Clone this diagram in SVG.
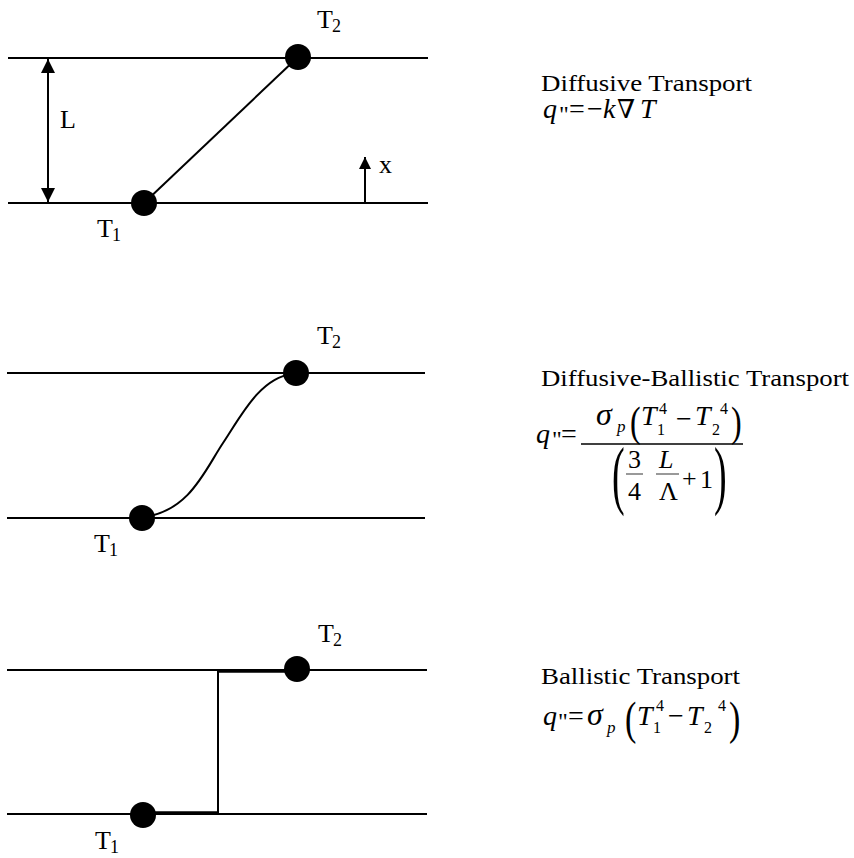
<svg xmlns="http://www.w3.org/2000/svg" width="854" height="858" viewBox="0 0 854 858">
<style>
  .ln{stroke:#000;stroke-width:2;fill:none}
  .thk{stroke:#000;stroke-width:3.5;fill:none}
  .dot{fill:#000}
  .lbl{font-family:"Liberation Serif","DejaVu Serif",serif;font-size:26px;fill:#000}
  .sub{font-family:"Liberation Serif","DejaVu Serif",serif;font-size:18px;fill:#000}
  .ttl{font-family:"Liberation Serif","DejaVu Serif",serif;font-size:24px;fill:#000}
  .m{font-family:"Liberation Serif","DejaVu Serif",serif;font-size:28px;fill:#000}
  .mi{font-family:"Liberation Serif","DejaVu Serif",serif;font-size:28px;font-style:italic;fill:#000}
  .ms{font-family:"Liberation Serif","DejaVu Serif",serif;font-size:16px;fill:#000}
  .msi{font-family:"Liberation Serif","DejaVu Serif",serif;font-size:17px;font-style:italic;fill:#000}
  .fb{stroke:#000;stroke-width:1.5}
  .fs{stroke:#555;stroke-width:1.2}
</style>
<defs>
  <marker id="ah" markerUnits="userSpaceOnUse" markerWidth="14" markerHeight="14" viewBox="0 0 14 14" refX="14" refY="7" orient="auto-start-reverse">
    <path d="M0,0 L14,7 L0,14 z" fill="#000"/>
  </marker>
  <marker id="ah2" markerUnits="userSpaceOnUse" markerWidth="12" markerHeight="12" viewBox="0 0 12 12" refX="12" refY="6" orient="auto">
    <path d="M0,0 L12,6 L0,12 z" fill="#000"/>
  </marker>
</defs>

<!-- Panel 1: Diffusive -->
<g id="panel1">
  <line class="ln" x1="8" y1="58" x2="428" y2="58"/>
  <line class="ln" x1="8" y1="203" x2="428" y2="203"/>
</g>
<g id="connectors">
  <line class="ln" x1="144" y1="203" x2="298" y2="57"/>
  <line class="ln" x1="48" y1="59" x2="48" y2="202" marker-start="url(#ah)" marker-end="url(#ah)"/>
  <line class="ln" x1="365" y1="203" x2="365" y2="157" marker-end="url(#ah2)"/>
  <path class="ln" d="M145,517 C190,510 205,470 223,443 S260,378 292,374"/>
  <path class="thk" d="M143,813 L218,813"/>
  <line class="ln" x1="218" y1="814" x2="218" y2="671"/>
  <path class="thk" d="M218,671 L297,671"/>
</g>
<g id="p1-T2"><circle class="dot" cx="298" cy="57" r="13"/><text class="lbl" x="317" y="28">T</text><text class="sub" x="332" y="32">2</text></g>
<g id="p1-T1"><circle class="dot" cx="144" cy="203" r="13"/><text class="lbl" x="97" y="237">T</text><text class="sub" x="112" y="241">1</text></g>
<text class="lbl" x="60" y="128">L</text>
<text class="lbl" x="379" y="173">x</text>
<g id="p1-text">
  <text class="ttl" x="541" y="91" textLength="211" lengthAdjust="spacingAndGlyphs">Diffusive Transport</text>
  <text class="mi" x="543" y="118">q</text>
  <text class="m" x="559" y="122" style="font-size:24px">"</text>
  <text class="m" x="569" y="118">=</text>
  <text class="m" x="587" y="118">−</text>
  <text class="mi" x="603" y="118">k</text>
  <text class="m" x="617" y="118" style="font-size:26px">∇</text>
  <text class="mi" x="640" y="118">T</text>
</g>

<!-- Panel 2: Diffusive-Ballistic -->
<g id="panel2">
  <line class="ln" x1="7" y1="373" x2="425" y2="373"/>
  <line class="ln" x1="7" y1="518" x2="425" y2="518"/>
</g>
<g id="p2-T2"><circle class="dot" cx="296" cy="373" r="13"/><text class="lbl" x="317" y="344">T</text><text class="sub" x="332" y="348">2</text></g>
<g id="p2-T1"><circle class="dot" cx="142" cy="518" r="13"/><text class="lbl" x="94" y="552">T</text><text class="sub" x="109" y="556">1</text></g>
<g id="p2-text">
  <text class="ttl" x="541" y="386" textLength="308" lengthAdjust="spacingAndGlyphs">Diffusive-Ballistic Transport</text>
  <text class="mi" x="536" y="443">q</text>
  <text class="m" x="552" y="447" style="font-size:24px">"</text>
  <text class="m" x="561" y="443">=</text>
  <line class="fb" x1="581" y1="444" x2="743" y2="444"/>
  <text class="mi" x="596" y="425" style="font-size:32px">σ</text>
  <text class="msi" x="617" y="432">p</text>
  <text class="m" transform="translate(630,435.7) scale(1,1.3)" style="font-size:32px">(</text>
  <text class="mi" x="641" y="425">T</text>
  <text class="ms" x="659" y="414">4</text>
  <text class="ms" x="657" y="435">1</text>
  <text class="m" x="676" y="428">−</text>
  <text class="mi" x="695" y="425">T</text>
  <text class="ms" x="712" y="435">2</text>
  <text class="ms" x="720" y="414">4</text>
  <text class="m" transform="translate(731,435.7) scale(1,1.3)" style="font-size:32px">)</text>
  <text class="m" transform="translate(612,499.5) scale(1,2)" style="font-size:38px">(</text>
  <text class="m" x="628" y="468" style="font-size:26px">3</text>
  <line class="fs" x1="626" y1="474" x2="643" y2="474"/>
  <text class="m" x="628" y="500" style="font-size:26px">4</text>
  <text class="mi" x="659" y="468" style="font-size:26px">L</text>
  <line class="fs" x1="656" y1="474" x2="679" y2="474"/>
  <text class="m" x="659" y="500" style="font-size:26px">Λ</text>
  <text class="m" x="682" y="487" style="font-size:26px">+</text>
  <text class="m" x="700" y="488" style="font-size:26px">1</text>
  <text class="m" transform="translate(714,499.5) scale(1,2)" style="font-size:38px">)</text>
</g>

<!-- Panel 3: Ballistic -->
<g id="panel3">
  <line class="ln" x1="7" y1="670" x2="427" y2="670"/>
  <line class="ln" x1="7" y1="814" x2="427" y2="814"/>
</g>
<g id="p3-T2"><circle class="dot" cx="297" cy="669" r="13"/><text class="lbl" x="318" y="642">T</text><text class="sub" x="333" y="646">2</text></g>
<g id="p3-T1"><circle class="dot" cx="143" cy="815" r="13"/><text class="lbl" x="95" y="849">T</text><text class="sub" x="110" y="853">1</text></g>
<g id="p3-text">
  <text class="ttl" x="541" y="684" textLength="199" lengthAdjust="spacingAndGlyphs">Ballistic Transport</text>
  <text class="mi" x="543" y="725">q</text>
  <text class="m" x="558" y="729" style="font-size:24px">"</text>
  <text class="m" x="568" y="725">=</text>
  <text class="mi" x="587" y="725" style="font-size:32px">σ</text>
  <text class="msi" x="607" y="733">p</text>
  <text class="m" transform="translate(625,733.7) scale(1,1.35)" style="font-size:34px">(</text>
  <text class="mi" x="637" y="725">T</text>
  <text class="ms" x="656" y="711">4</text>
  <text class="ms" x="653" y="733">1</text>
  <text class="m" x="668" y="725">−</text>
  <text class="mi" x="687" y="725">T</text>
  <text class="ms" x="704" y="733">2</text>
  <text class="ms" x="718" y="711">4</text>
  <text class="m" transform="translate(729,733.7) scale(1,1.35)" style="font-size:34px">)</text>
</g>
</svg>
